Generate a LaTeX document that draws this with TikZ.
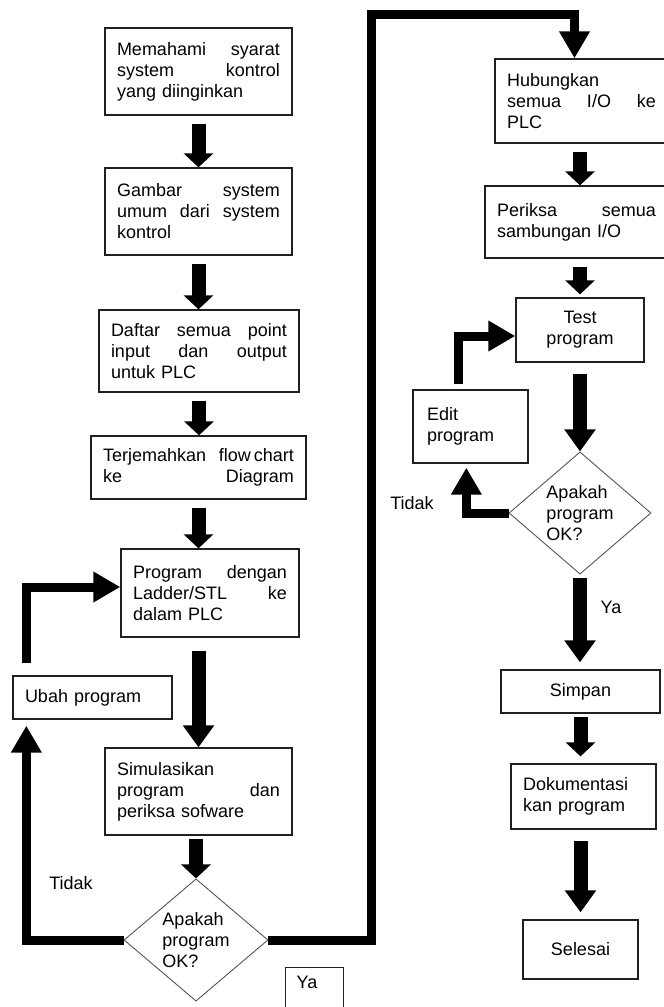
\documentclass[tikz,border=0pt]{standalone}
\usepackage{fontspec}
\setmainfont{Liberation Sans}
\usetikzlibrary{arrows.meta,shapes.geometric}
\definecolor{edge}{HTML}{202020}
\definecolor{askedge}{HTML}{555555}
\tikzset{%
    >={Triangle[width=29pt,length=27pt]}
}

\begin{document}
\begin{tikzpicture}[x=1pt, y=-1pt,
  every node/.style={font=\fontsize{18pt}{21pt}\selectfont},
  box/.style={draw=edge, line width=1.3pt, rectangle, inner xsep=12pt, inner ysep=0pt, align=left},
  ask/.style={draw=askedge, line width=0.9pt, diamond, inner sep=0pt, align=left},
  flow/.style={-{Triangle[width=29pt,length=14pt]}, line width=14pt, shorten <=8pt},
  longflow/.style={flow, -{Triangle[width=30pt,length=22pt]}},
  back/.style={->, line width=9pt}]
  \useasboundingbox (0,0) rectangle (664,1007);
  \fill[white] (0,0) rectangle (664,1007);
  \clip (0,0) rectangle (664,1007);

  % left column
  \node[box, text width=163pt, minimum height=87pt] (syarat) at (198.5,71.5)
    {Memahami\hfill syarat\\system\hfill kontrol\\yang diinginkan};
  \node[box, text width=163pt, minimum height=87pt] (gambar) at (198.5,211.5)
    {Gambar\hfill system\\umum\hfill dari\hfill system\\kontrol};
  \node[box, text width=176pt, minimum height=82pt] (daftar) at (199,351)
    {Daftar\hfill semua\hfill point\\input\hfill dan\hfill output\\untuk PLC};
  \node[box, text width=191pt, minimum height=63pt] (terjemah) at (198.5,467.5)
    {Terjemahkan\hfill flow\kern3pt chart\\ke\hfill Diagram};
  \node[box, text width=154pt, minimum height=88pt] (progplc) at (210,593)
    {Program\hfill dengan\\Ladder/STL\hfill ke\\dalam PLC};
  \node[box, text width=135pt, minimum height=43pt] (ubah) at (92.5,697.5) {Ubah program};
  \node[box, text width=163pt, minimum height=87pt] (simulasi) at (198.5,791.5)
    {Simulasikan\\program\hfill dan\\periksa sofware};
  \node[ask, minimum width=144pt, minimum height=120pt] (cek) at (196,940)
    {Apakah\\program\\OK?};
  \node (tidakA) at (71,883) {Tidak};
  \node[box, inner xsep=11pt, text width=36pt, minimum height=50pt, anchor=north west] (yaA)
    at (285,967) {Ya\\\mbox{}};

  % right column
  \node[box, text width=149pt, minimum height=84pt] (hubung) at (581.5,101)
    {Hubungkan\\semua\hfill I/O\hfill ke\\PLC};
  \node[box, text width=159pt, minimum height=72pt] (periksa) at (576.5,222)
    {Periksa\hfill semua\\sambungan I/O};
  \node[box, align=center, minimum width=128pt, minimum height=64pt] (test) at (580,330)
    {Test\\program};
  \node[box, inner xsep=14pt, text width=87pt, minimum height=73pt] (edit) at (470.5,426.5)
    {Edit\\program};
  \node[ask, minimum width=142pt, minimum height=118pt] (cek2) at (580,513)
    {Apakah\\program\\OK?};
  \node (tidakB) at (412,503) {Tidak};
  \node (yaB) at (611,607) {Ya};
  \node[box, align=center, minimum width=159pt, minimum height=43pt] (simpan) at (580.5,691.5) {Simpan};
  \node[box, text width=121pt, minimum height=65pt] (doku) at (583.5,796.5)
    {Dokumentasi\\kan program};
  \node[box, align=center, minimum width=115pt, minimum height=59pt] (selesai) at (580.5,949.5) {Selesai};

  \coordinate (naik) at (371,14);

  % main flow
  \draw[flow] (syarat.south) -- (gambar.north);
  \draw[flow] (gambar.south) -- (gambar.south |- daftar.north);
  \draw[flow] (daftar.south) -- (daftar.south |- terjemah.north);
  \draw[flow] (terjemah.south) -- (terjemah.south |- progplc.north);
  \draw[longflow, shorten <=13pt] (progplc.south -| simulasi.north) -- (simulasi.north);
  \draw[flow, shorten <=3pt] (simulasi.south -| cek.north) -- (cek.north);
  \draw[back] (cek.east) -| (naik) -| ([xshift=-7pt]hubung.north);
  \draw[flow] (hubung.south -| test.north) -- (periksa.north -| test.north);
  \draw[flow, shorten >=3pt] (periksa.south -| test.north) -- (test.north);
  \draw[longflow, shorten <=11pt] (test.south) -- (cek2.north);
  \draw[longflow, shorten <=3pt, shorten >=7pt] (cek2.south) -- (cek2.south |- simpan.north);
  \draw[flow, shorten <=3pt, shorten >=7pt] (simpan.south) -- (simpan.south |- doku.north);
  \draw[longflow, shorten <=11pt, shorten >=7pt] (doku.south -| selesai.north) -- (selesai.north);

  % loops back
  \draw[back, shorten >=6pt] (cek.west) -| ([xshift=14pt]ubah.south west);
  \draw[back, shorten <=12pt] ([xshift=14pt]ubah.north west) |- ([yshift=6pt]progplc.west);
  \draw[back, shorten >=4pt] (cek2.west) -| ([xshift=54pt]edit.south west);
  \draw[back, shorten <=5pt] ([xshift=46pt]edit.north west) |- ([yshift=-6pt]test.west);
\end{tikzpicture}
\end{document}
